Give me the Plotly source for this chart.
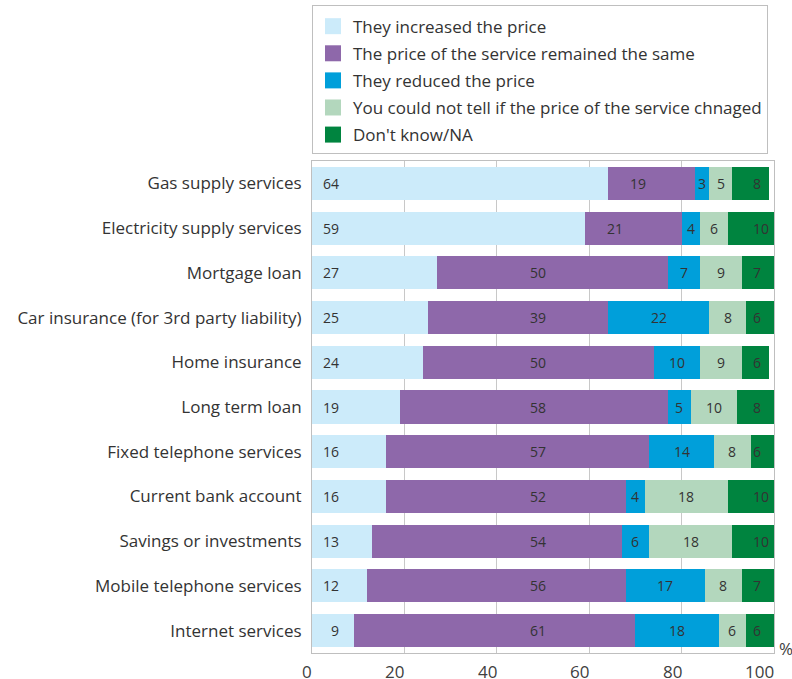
import plotly.graph_objects as go

categories = [
    "Gas supply services",
    "Electricity supply services",
    "Mortgage loan",
    "Car insurance (for 3rd party liability)",
    "Home insurance",
    "Long term loan",
    "Fixed telephone services",
    "Current bank account",
    "Savings or investments",
    "Mobile telephone services",
    "Internet services",
]
increased = [64, 59, 27, 25, 24, 19, 16, 16, 13, 12, 9]
same = [19, 21, 50, 39, 50, 58, 57, 52, 54, 56, 61]
reduced = [3, 4, 7, 22, 10, 5, 14, 4, 6, 17, 18]
cant_tell = [5, 6, 9, 8, 9, 10, 8, 18, 18, 8, 6]
dont_know = [8, 10, 7, 6, 6, 8, 6, 10, 10, 7, 6]

series_names = [
    "They increased the price",
    "The price of the service remained the same",
    "They reduced the price",
    "You could not tell if the price of the service chnaged",
    "Don't know/NA",
]
x_ticks = [0, 20, 40, 60, 80, 100]

colors = ["#CCEBFA", "#8E68AA", "#009FDA", "#B3D7BD", "#00843F"]
FONT = "Open Sans"
TXT = "#333333"

series = [increased, same, reduced, cant_tell, dont_know]

fig = go.Figure()
for vals, name, col in zip(series, series_names, colors):
    fig.add_trace(go.Bar(
        x=vals, y=categories, orientation="h", name=name,
        marker=dict(color=col, line=dict(width=0)),
        showlegend=False, hoverinfo="skip",
    ))

# legend entries
for i, (name, col) in enumerate(zip(series_names, colors)):
    fig.add_trace(go.Scatter(
        x=[None], y=[None], mode="markers", name=name,
        marker=dict(symbol="square", size=16, color=col),
        legendgroup=str(i), hoverinfo="skip",
    ))

annotations = []
for ci, cat in enumerate(categories):
    start = 0
    for si, vals in enumerate(series):
        v = vals[ci]
        end = min(start + v, 100)
        if si == 0:
            ax, anchor = 6.3, "right"
        elif si == 1:
            ax, anchor = max(49, start + 6.6), "center"
        elif si == 4:
            ax, anchor = 95.1, "left"
        else:
            ax, anchor = (start + end) / 2, "center"
        annotations.append(dict(
            x=ax, y=cat, xref="x", yref="y", text=str(v), showarrow=False,
            xanchor=anchor, yanchor="middle",
            font=dict(family=FONT, size=14, color=TXT),
        ))
        start += v

for t in x_ticks:
    annotations.append(dict(
        x=t, y=0, xref="x", yref="paper", text=str(t), showarrow=False,
        xanchor="right", yanchor="top", xshift=2, yshift=-5,
        font=dict(family=FONT, size=17, color="#404040"),
    ))
annotations.append(dict(
    x=1, y=0, xref="paper", yref="paper", text="%", showarrow=False,
    xanchor="left", yanchor="middle", xshift=3, yshift=5,
    font=dict(family=FONT, size=17, color="#404040"),
))

fig.update_layout(
    width=792, height=679,
    margin=dict(l=312, r=18, t=161, b=26, autoexpand=False),
    barmode="stack", bargap=0.26,
    plot_bgcolor="white", paper_bgcolor="white",
    font=dict(family=FONT, size=16, color=TXT),
    legend=dict(
        x=0, xanchor="left", y=1.317, yanchor="top",
        bordercolor="#bfbfbf", borderwidth=1,
        font=dict(family=FONT, size=17, color=TXT),
        traceorder="grouped", tracegroupgap=2,
        bgcolor="white", entrywidth=424, entrywidthmode="pixels",
        title=dict(text=" ", font=dict(size=2)),
    ),
    annotations=annotations,
)
fig.update_xaxes(
    range=[0, 100], tickvals=x_ticks, showticklabels=False,
    showgrid=True, gridcolor="#c8c8c8", gridwidth=1,
    showline=True, mirror=True, linecolor="#bfbfbf", linewidth=1,
    zeroline=False, fixedrange=True,
)
fig.update_yaxes(
    categoryorder="array", categoryarray=categories, autorange="reversed",
    showline=True, mirror=True, linecolor="#bfbfbf", linewidth=1,
    ticks="", ticklabelstandoff=6, showgrid=False,
    tickfont=dict(family=FONT, size=17, color=TXT), fixedrange=True,
)

fig.write_html(
    "out.html",
    config={"displayModeBar": False},
    post_script="document.body.style.margin='0px';document.body.style.overflow='hidden';",
)
